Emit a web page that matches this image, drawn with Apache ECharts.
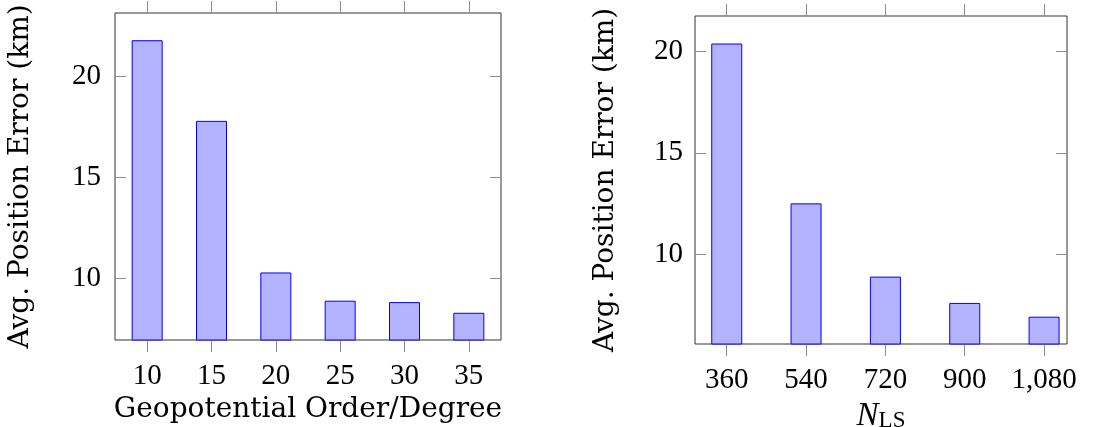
<!DOCTYPE html>
<html>
<head>
<meta charset="utf-8">
<script src="https://cdn.jsdelivr.net/npm/echarts@6/dist/echarts.min.js"></script>
<style>
  html, body { margin: 0; padding: 0; background: #fff; }
  #chart { width: 1107px; height: 427px; }
</style>
</head>
<body>
<div id="chart"></div>
<script>
// Left panel: error against geopotential order/degree
const orderCategories = ['10', '15', '20', '25', '30', '35'];
const orderErrors = [21.8, 17.8, 10.28, 8.88, 8.81, 8.28];
const leftYTicks = [10, 15, 20];

// Right panel: error against number of least-squares points
const nlsValues = [360, 540, 720, 900, 1080];
const nlsErrors = [20.4, 12.5, 8.88, 7.58, 6.9];
const rightYTicks = [10, 15, 20];
const rightXTicks = [360, 540, 720, 900, 1080];

const yName = 'Avg. Position Error (km)';
const tickFont = 'Liberation Serif';
const nameFont = 'DejaVu Serif';
const tickColor = '#8c8c8c';
const barFill = '#b3b3ff';
const barEdge = '#0000ff';

function xAxisBase(gridIndex, position, showLabels) {
  return {
    gridIndex: gridIndex,
    position: position,
    axisLine: { show: false },
    axisTick: { show: true, inside: false, length: 12, lineStyle: { color: tickColor, width: 1 } },
    axisLabel: { show: showLabels, color: '#000', fontSize: 29, fontFamily: tickFont, margin: 22 },
    splitLine: { show: false }
  };
}

function yAxisBase(gridIndex, position, min, max, ticks, showLabels, margin) {
  return {
    type: 'value',
    gridIndex: gridIndex,
    position: position,
    min: min,
    max: max,
    axisLine: { show: false },
    axisTick: { show: true, inside: true, length: 11, customValues: ticks, lineStyle: { color: tickColor, width: 1 } },
    axisLabel: { show: showLabels, customValues: ticks, color: '#000', fontSize: 29, fontFamily: tickFont, margin: margin },
    splitLine: { show: false }
  };
}

const leftBottom = Object.assign(xAxisBase(0, 'bottom', true), {
  type: 'category',
  data: orderCategories,
  name: 'Geopotential Order/Degree',
  nameLocation: 'middle',
  nameGap: 45,
  nameTextStyle: { color: '#000', fontSize: 28, fontFamily: nameFont }
});
leftBottom.axisTick.alignWithLabel = true;

const leftTop = Object.assign(xAxisBase(0, 'top', false), {
  type: 'category',
  data: orderCategories
});
leftTop.axisTick.alignWithLabel = true;

const rightBottom = Object.assign(xAxisBase(1, 'bottom', true), {
  type: 'value',
  min: 288,
  max: 1132,
  name: '{n|N}{s|LS}',
  nameLocation: 'middle',
  nameGap: 40,
  nameTextStyle: {
    color: '#000', fontSize: 32, fontFamily: tickFont,
    rich: {
      n: { fontSize: 33, fontStyle: 'italic', fontFamily: tickFont, color: '#000' },
      s: { fontSize: 23, fontFamily: tickFont, color: '#000', padding: [10, 0, 0, 0] }
    }
  }
});
rightBottom.axisTick.customValues = rightXTicks;
rightBottom.axisLabel.customValues = rightXTicks;
rightBottom.axisLabel.formatter = v => Number(v).toLocaleString('en-US');

const rightTop = Object.assign(xAxisBase(1, 'top', false), {
  type: 'value',
  min: 288,
  max: 1132
});
rightTop.axisTick.customValues = rightXTicks;

const leftY = Object.assign(yAxisBase(0, 'left', 6.93, 23.15, leftYTicks, true, 14), {
  name: yName, nameLocation: 'middle', nameGap: 80,
  nameTextStyle: { color: '#000', fontSize: 28, fontFamily: nameFont }
});
const leftY2 = yAxisBase(0, 'right', 6.93, 23.15, leftYTicks, false, 8);
const rightY = Object.assign(yAxisBase(1, 'left', 5.55, 21.76, rightYTicks, true, 12), {
  name: yName, nameLocation: 'middle', nameGap: 75,
  nameTextStyle: { color: '#000', fontSize: 28, fontFamily: nameFont }
});
const rightY2 = yAxisBase(1, 'right', 5.55, 21.76, rightYTicks, false, 8);

const chart = echarts.init(document.getElementById('chart'), null, { renderer: 'canvas' });
chart.setOption({
  animation: false,
  backgroundColor: '#fff',
  grid: [
    { left: 115, right: 606, top: 13, bottom: 87, outerBoundsMode: 'none', show: true, borderColor: '#333', borderWidth: 1, backgroundColor: 'transparent' },
    { left: 695, right: 40, top: 16, bottom: 83, outerBoundsMode: 'none', show: true, borderColor: '#333', borderWidth: 1, backgroundColor: 'transparent' }
  ],
  xAxis: [leftBottom, leftTop, rightBottom, rightTop],
  yAxis: [leftY, leftY2, rightY, rightY2],
  series: [
    {
      type: 'bar', xAxisIndex: 0, yAxisIndex: 0,
      data: orderErrors, barWidth: 31, clip: true,
      itemStyle: { color: barFill, borderColor: barEdge, borderWidth: 1 }
    },
    {
      type: 'bar', xAxisIndex: 2, yAxisIndex: 2,
      data: nlsValues.map((x, i) => [x, nlsErrors[i]]), barWidth: 31, clip: true,
      itemStyle: { color: barFill, borderColor: barEdge, borderWidth: 1 }
    }
  ]
});
</script>
</body>
</html>
